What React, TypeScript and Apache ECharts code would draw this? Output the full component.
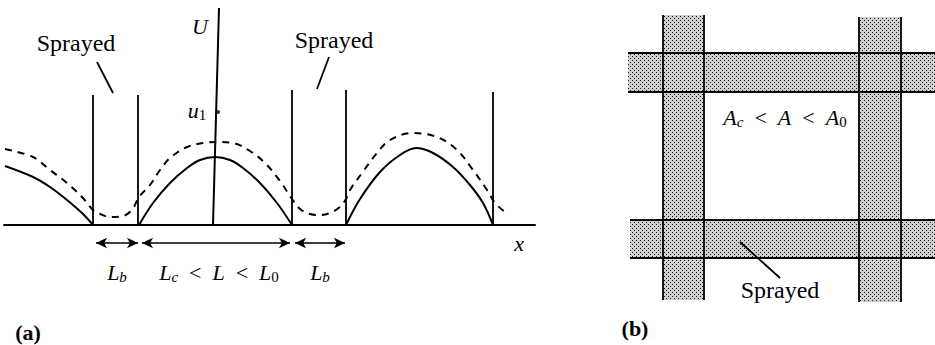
import React, { useEffect, useRef } from "react";
import * as echarts from "echarts";

// ---------- Panel (a): curves (x = position along axis, y = U) ----------
const solidLeft = [[1, 59], [29, 48], [46, 38], [63, 25], [79, 11], [89, 0]];
const solidMiddle = [[135, 0], [149, 22], [166, 42], [183, 57], [196, 65], [211, 68], [226, 65], [239, 57], [256, 42], [273, 22], [288, 0]];
const solidRight = [[342, 0], [356, 26], [376, 53], [396, 70], [412, 77], [429, 72], [449, 58], [466, 40], [479, 22], [489, 0]];
const dashedCurve = [
  [1, 76], [29, 68], [46, 55], [63, 42], [79, 27], [89, 15], [96, 11], [106, 8], [119, 9], [128, 15],
  [135, 28], [146, 40], [156, 55], [166, 67], [183, 78], [199, 82], [213, 83], [229, 82], [246, 74], [261, 62],
  [276, 44], [288, 26], [296, 16], [306, 11], [316, 10], [326, 12], [336, 18], [342, 26], [346, 35], [358, 52],
  [373, 72], [386, 85], [408, 92], [433, 88], [453, 75], [469, 55], [483, 35], [491, 22], [501, 13],
];
const uAxisLine = [[215, 217], [209, 0]];
const u1Point = [[214, 113]];
// spray boundaries: [x, top]
const sprayLines = [[89, 130], [134, 130], [288, 135], [342, 135], [489, 133]];
// span arrows: [from, to] at arrowLevel
const spanArrows = [[92, 134], [138, 286], [291, 341]];
const arrowLevel = -18;
const spanLabelPos = [[113, -47], [215, -47], [316, -47]];
// leader lines for "Sprayed"
const leadersA = [[[93, 163], [109, 132]], [[325, 168], [313, 136]]];
const sprayedLabelPosA = [[72, 182], [330, 185]];

// ---------- Panel (b): bands ----------
const hBandsY = [[53, 92], [220, 258]];
const hBandsStart = [0, 2];
const hBandsEnd = 307;
const vBandsX = [[35, 76], [231, 273]];
const vBandsY = [[15, 300], [17, 302]];
const leaderB = [[112, 242], [152, 278]];

const SERIF = "Liberation Serif";

function makeStipple() {
  const c = document.createElement("canvas");
  c.width = 4;
  c.height = 4;
  const ctx = c.getContext("2d")!;
  ctx.fillStyle = "#cfcfcf";
  ctx.fillRect(0, 0, 4, 4);
  ctx.fillStyle = "#1a1a1a";
  ctx.fillRect(0, 0, 1, 1);
  ctx.fillRect(2, 2, 1, 1);
  return c;
}

const mathRich = {
  i: { fontFamily: SERIF, fontStyle: "italic", fontSize: 22, lineHeight: 24, fill: "#000" },
  s: { fontFamily: SERIF, fontStyle: "italic", fontSize: 15, lineHeight: 12, verticalAlign: "bottom", fill: "#000" },
  n: { fontFamily: SERIF, fontSize: 15, lineHeight: 12, verticalAlign: "bottom", fill: "#000" },
  r: { fontFamily: SERIF, fontSize: 22, lineHeight: 24, padding: [0, 11], fill: "#000" },
};

export default function App() {
  const ref = useRef<HTMLDivElement>(null);
  useEffect(() => {
    if (!ref.current) return;
    const chart = echarts.init(ref.current, null, { renderer: "svg" });
    const black = "#000";
    const curve = (data: number[][], dashed = false) => ({
      type: "line",
      xAxisIndex: 0,
      yAxisIndex: 0,
      data,
      smooth: 0.35,
      showSymbol: false,
      symbol: "none",
      silent: true,
      lineStyle: { color: black, width: 2, type: dashed ? [7, 6] : "solid" },
      z: 3,
    });
    const seg = (a: number[], b: number[], extra: any = {}) => [
      { coord: a, symbol: "none", ...extra },
      { coord: b, symbol: "none", ...extra },
    ];
    const stipple = makeStipple();

    const edgeLines: any[] = [];
    hBandsY.forEach((ys, k) => {
      ys.forEach((y) => edgeLines.push(seg([hBandsStart[k], y], [hBandsEnd, y])));
    });
    vBandsX.forEach((xs, k) => {
      xs.forEach((x) => edgeLines.push(seg([x, vBandsY[k][0]], [x, vBandsY[k][1]])));
    });
    edgeLines.push(seg(leaderB[0], leaderB[1]));

    const bandAreas: any[] = [];
    hBandsY.forEach((ys, k) => bandAreas.push([{ coord: [hBandsStart[k], ys[0]] }, { coord: [hBandsEnd, ys[1]] }]));
    vBandsX.forEach((xs, k) => bandAreas.push([{ coord: [xs[0], vBandsY[k][0]] }, { coord: [xs[1], vBandsY[k][1]] }]));

    chart.setOption({
      animation: false,
      textStyle: { fontFamily: SERIF },
      grid: [
        { left: 4, top: 8, width: 531, height: 252 },
        { left: 628, top: 0, width: 307, height: 345 },
      ],
      xAxis: [
        {
          gridIndex: 0, type: "value", min: 0, max: 531,
          axisLine: { show: true, onZero: true, lineStyle: { color: black, width: 2 } },
          axisTick: { show: false }, axisLabel: { show: false }, splitLine: { show: false },
        },
        { gridIndex: 1, type: "value", min: 0, max: 307, show: false },
      ],
      yAxis: [
        { gridIndex: 0, type: "value", min: -35, max: 217, show: false },
        { gridIndex: 1, type: "value", min: 0, max: 345, inverse: true, show: false },
      ],
      series: [
        curve(solidLeft),
        curve(solidMiddle),
        curve(solidRight),
        curve(dashedCurve, true),
        {
          type: "line", xAxisIndex: 0, yAxisIndex: 0, data: uAxisLine, showSymbol: false, symbol: "none",
          silent: true, lineStyle: { color: black, width: 2 }, z: 4,
        },
        {
          type: "scatter", xAxisIndex: 0, yAxisIndex: 0, data: u1Point, symbolSize: 4,
          itemStyle: { color: black }, silent: true, z: 5,
        },
        {
          type: "line", xAxisIndex: 0, yAxisIndex: 0, data: [], silent: true,
          markLine: {
            silent: true, symbol: "none", label: { show: false }, emphasis: { disabled: true },
            lineStyle: { color: black, width: 1.8, type: "solid" },
            data: [
              ...sprayLines.map(([x, top]) => seg([x, 0], [x, top])),
              ...leadersA.map(([a, b]) => seg(a, b)),
            ],
          },
        },
        {
          type: "line", xAxisIndex: 0, yAxisIndex: 0, data: [], silent: true,
          markLine: {
            silent: true, symbol: ["arrow", "arrow"], symbolSize: [8, 11],
            label: { show: false }, emphasis: { disabled: true },
            lineStyle: { color: black, width: 1.6, type: "solid" },
            itemStyle: { color: black },
            data: spanArrows.map(([a, b]) => [{ coord: [a, arrowLevel] }, { coord: [b, arrowLevel] }]),
          },
        },
        {
          type: "line", xAxisIndex: 1, yAxisIndex: 1, data: [], silent: true, z: 1,
          markArea: {
            silent: true, emphasis: { disabled: true }, label: { show: false },
            itemStyle: { color: { image: stipple, repeat: "repeat", imageWidth: 4, imageHeight: 4 }, borderWidth: 0, opacity: 1 },
            data: bandAreas,
          },
        },
        {
          type: "line", xAxisIndex: 1, yAxisIndex: 1, data: [], silent: true, z: 3,
          markLine: {
            silent: true, symbol: "none", label: { show: false }, emphasis: { disabled: true },
            lineStyle: { color: black, width: 1.8, type: "solid" },
            data: edgeLines,
          },
        },
      ],
    });

    const pA = (p: number[]) => chart.convertToPixel({ xAxisIndex: 0, yAxisIndex: 0 } as any, p) as number[];
    const pB = (p: number[]) => chart.convertToPixel({ xAxisIndex: 1, yAxisIndex: 1 } as any, p) as number[];
    const txt = (pos: number[], text: string, style: any = {}) => ({
      type: "text", x: pos[0], y: pos[1], silent: true, z: 10,
      style: { text, align: "center", verticalAlign: "middle", fill: "#000", fontFamily: SERIF, fontSize: 24, ...style },
    });
    const richTxt = (pos: number[], text: string) => txt(pos, text, { rich: mathRich });

    const spanTexts = ["{i|L}{s|b}", "{i|L}{s|c}{r|<}{i|L}{r|<}{i|L}{n|0}", "{i|L}{s|b}"];

    chart.setOption({
      graphic: [
        txt(pA(sprayedLabelPosA[0]), "Sprayed"),
        txt(pA(sprayedLabelPosA[1]), "Sprayed"),
        txt(pA([196, 199]), "U", { fontStyle: "italic", fontSize: 22 }),
        richTxt(pA([193, 115]), "{i|u}{n|1}"),
        txt(pA([515, -18]), "x", { fontStyle: "italic", fontSize: 22 }),
        ...spanLabelPos.map((p, k) => richTxt(pA(p), spanTexts[k])),
        txt(pA([24, -107]), "(a)", { fontWeight: "bold", fontSize: 22 }),
        richTxt(pB([157, 117]), "{i|A}{s|c}{r|<}{i|A}{r|<}{i|A}{n|0}"),
        txt(pB([152, 290]), "Sprayed"),
        txt(pB([7, 328]), "(b)", { fontWeight: "bold", fontSize: 22 }),
      ],
    });

    return () => chart.dispose();
  }, []);
  return <div ref={ref} style={{ position: "absolute", left: 0, top: 0, width: 935, height: 345, background: "#fff" }} />;
}
